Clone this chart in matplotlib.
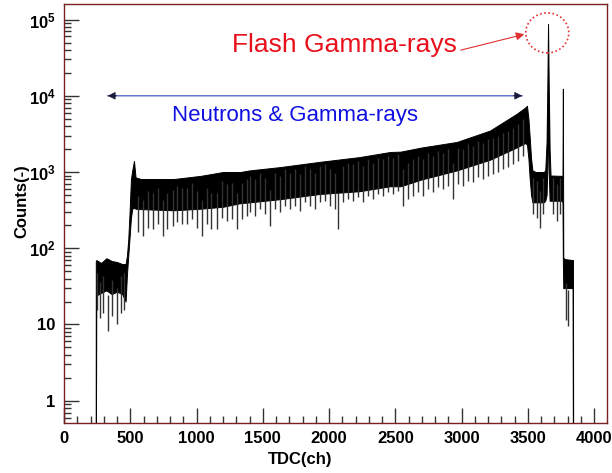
import numpy as np
import matplotlib.pyplot as plt
from matplotlib.patches import Ellipse

plt.rcParams['font.family'] = ['Liberation Sans', 'DejaVu Sans']
plt.rcParams['mathtext.fontset'] = 'custom'
plt.rcParams['mathtext.rm'] = 'Liberation Sans:bold'
plt.rcParams['mathtext.bf'] = 'Liberation Sans:bold'

# dense band of the TDC spectrum: channel, upper and lower edge (counts)
band_ch = [239, 240, 244, 280, 320, 360, 400, 440, 465, 475, 485, 495, 505,
           515, 528, 540, 580, 830, 1030, 1200, 1330, 1400, 1630, 1930, 2230,
           2460, 2540, 2700, 2965, 3215, 3416, 3480, 3494, 3505, 3515, 3525,
           3535, 3560, 3620, 3632, 3642, 3648, 3653, 3658, 3665, 3672, 3755,
           3762, 3765, 3768, 3781, 3838, 3841, 3843]
band_top = [0.1, 68, 70, 64, 74, 68, 66, 62, 62, 80, 130, 300, 800,
            1050, 1400, 850, 810, 810, 890, 1000, 1000, 1050, 1160, 1360, 1570,
            1830, 1850, 2100, 2480, 3500, 5800, 7000, 7400, 5000, 2800, 1500,
            1050, 1000, 1000, 1050, 2500, 15000, 88000, 15000, 2000, 900, 890,
            900, 12400, 75, 72, 70, 70, 0.1]
band_low = [0.1, 0.1, 24, 26, 28, 25, 27, 25, 20, 45, 80, 140, 250,
            330, 340, 330, 326, 315, 330, 350, 390, 400, 440, 515, 560,
            650, 650, 800, 1050, 1450, 2100, 2400, 2300, 1500, 800, 500,
            400, 400, 400, 420, 500, 1200, 8000, 1000, 420, 420, 420,
            400, 66, 30, 30, 30, 0.1, 0.1]

# downward spikes below the dense band: channel, minimum counts
spike_ch = [247, 272, 297, 330, 360, 397, 428, 453,
            561, 599, 636, 674, 712, 749, 780, 820, 855, 888, 926, 964, 1006,
            1039, 1077, 1107, 1152, 1190, 1228, 1266, 1303, 1341, 1379,
            1404, 1442, 1479, 1517, 1555, 1592, 1630, 1668, 1706, 1743, 1781,
            1819, 1857, 1894, 1932, 1970, 2008, 2045, 2070, 2108, 2146, 2183,
            2221, 2259, 2297, 2334, 2372, 2410, 2448, 2485, 2523,
            2561, 2599, 2636, 2674, 2712, 2749, 2787, 2825, 2863, 2900, 2938,
            2976, 3014, 3051, 3089, 3127, 3165, 3202, 3240, 3278, 3315, 3353,
            3391, 3429, 3467,
            3542, 3567, 3592, 3617, 3693, 3718, 3743, 3789, 3806]
spike_min = [15.7, 12.2, 14.3, 8.2, 12.9, 10, 14.3, 15.7,
             161, 145, 187, 178, 207, 145, 178, 196, 218, 207, 207, 240, 187,
             145, 207, 178, 178, 253, 229, 240, 178, 240, 266,
             295, 266, 326, 280, 196, 326, 295, 360, 326, 360, 310,
             399, 360, 326, 399, 420, 360, 326, 178, 399, 441, 420,
             464, 399, 488, 441, 514, 488, 541, 514, 568,
             360, 441, 488, 541, 488, 597, 541, 628, 597, 661, 441,
             695, 661, 769, 731, 851, 809, 894, 941, 991, 1096, 1150,
             1275, 1410, 1640,
             280, 253, 187, 280, 280, 229, 280, 11.6, 9.5]

xticks = [0, 500, 1000, 1500, 2000, 2500, 3000, 3500, 4000]
yticks = [1, 10, 100, 1e3, 1e4, 1e5]
ytick_labels = ['1', '10', r'$\mathbf{10^{2}}$', r'$\mathbf{10^{3}}$',
                r'$\mathbf{10^{4}}$', r'$\mathbf{10^{5}}$']

fig = plt.figure(figsize=(6.12, 4.73), dpi=100)
ax = fig.add_axes([64 / 612, 50 / 473, 543 / 612, 419 / 473])
ax.set_yscale('log')

ax.fill_between(band_ch, band_low, band_top, color='black', lw=0.7)
spike_min = np.array(spike_min)
ax.vlines(spike_ch, spike_min, spike_min * 3, color='#333333', lw=1.0)

ax.set_xlim(0, 4098)
ax.set_ylim(0.51, 1.6e5)

ax.set_xticks(xticks)
ax.set_xticks(np.arange(0, 4100, 100), minor=True)
ax.set_yticks(yticks)
ax.set_yticklabels(ytick_labels)
ax.tick_params(which='both', direction='in', top=False, right=False,
               width=1, color='#333333')
ax.tick_params(which='major', length=11, labelsize=12, pad=6)
ax.tick_params(which='minor', length=5)
for lab in ax.get_xticklabels() + ax.get_yticklabels():
    lab.set_fontweight('bold')
for s in ax.spines.values():
    s.set_color('#7a2020')
    s.set_linewidth(1)

ax.set_xlabel('TDC(ch)', fontsize=12, fontweight='bold')
ax.set_ylabel('Counts(-)', fontsize=12, fontweight='bold')
ax.xaxis.set_label_coords(0.435, -0.07)
ax.yaxis.set_label_coords(-0.064, 0.53)

# neutrons & gamma-rays range
ax.annotate('', xy=(309, 1e4), xytext=(3479, 1e4),
            arrowprops=dict(arrowstyle='-', color='#5a6ac8', lw=1))
ax.annotate('', xy=(309, 1e4), xytext=(420, 1e4),
            arrowprops=dict(arrowstyle='-|>', color='#1a1a3a', lw=0.5,
                            mutation_scale=12))
ax.annotate('', xy=(3479, 1e4), xytext=(3370, 1e4),
            arrowprops=dict(arrowstyle='-|>', color='#1a1a3a', lw=0.5,
                            mutation_scale=12))
ax.text(815, 10 ** 3.737, 'Neutrons & Gamma-rays', color='#1010e0',
        fontsize=16, ha='left', va='center')

# flash gamma-rays
ax.text(1268, 10 ** 4.67, 'Flash Gamma-rays', color='#e8101a',
        fontsize=19, ha='left', va='center')
ax.annotate('', xy=(3494, 10 ** 4.816), xytext=(2974, 10 ** 4.59),
            arrowprops=dict(arrowstyle='-|>', color='#e03030', lw=0.8,
                            mutation_scale=12))
ax.add_patch(Ellipse((0.890, 0.931), 0.0792, 0.0955, transform=ax.transAxes,
                     fill=False, ec='#e03030', ls=(0, (1, 1.5)), lw=1.2))

fig.savefig('out.png', dpi=100)
